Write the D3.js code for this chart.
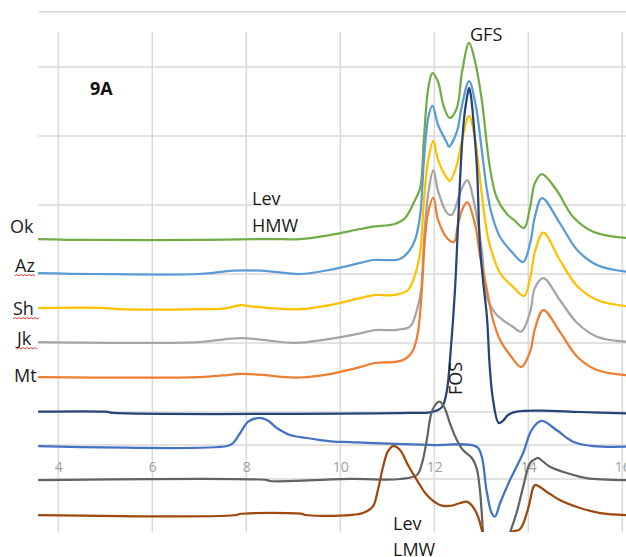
<!DOCTYPE html>
<html>
<head>
<meta charset="utf-8">
<script src="https://cdn.jsdelivr.net/npm/d3@7"></script>
<style>
  html, body { margin: 0; padding: 0; background: #fff; }
  svg { display: block; }
  text { font-family: "Open Sans", "DejaVu Sans", sans-serif; }
</style>
</head>
<body>
<svg id="chart" width="626" height="557"></svg>
<script>
// ---------- DATA (elution volume, detector response in grid units) ----------
const xTicks = [4, 6, 8, 10, 12, 14, 16];
const gridValues = [5.8, 5, 4, 3, 2, 1, 0, -0.48, -0.97];

const seriesNames = ["Ok", "Az", "Sh", "Jk", "Mt", "FOS", "LevHMW", "FOSstd", "LevLMW"];
const seriesColors = ["#70ad47", "#5b9bd5", "#ffc000", "#a5a5a5", "#ed7d31", "#264478", "#4472c4", "#636363", "#9e480e"];

const okData = [[3.57,2.507],[4.67,2.493],[6.9,2.493],[8.5,2.507],[9.14,2.507],[9.78,2.565],[10.42,2.652],[10.69,2.686],[11.16,2.725],[11.38,2.812],[11.59,3.072],[11.70,3.246],[11.78,3.971],[11.87,4.681],[11.96,4.91],[12.08,4.783],[12.2,4.43],[12.33,4.261],[12.48,4.406],[12.59,4.928],[12.74,5.348],[12.86,5.1],[13.01,4.522],[13.18,3.555],[13.33,3.101],[13.54,2.874],[13.7,2.78],[13.91,2.667],[14.04,2.975],[14.14,3.319],[14.29,3.449],[14.60,3.217],[14.95,2.83],[15.38,2.613],[16.08,2.522]];
const azData = [[3.57,2.014],[4.8,2.0],[7.0,2.0],[7.72,2.048],[8.3,2.048],[8.6,2.03],[9.14,2.0],[9.78,2.06],[10.42,2.16],[10.69,2.203],[11.27,2.217],[11.48,2.348],[11.59,2.493],[11.70,2.855],[11.78,3.652],[11.87,4.261],[11.96,4.439],[12.08,4.159],[12.27,3.899],[12.31,3.845],[12.48,4.062],[12.59,4.449],[12.74,4.797],[12.88,4.449],[13.01,3.797],[13.12,3.217],[13.22,2.87],[13.40,2.536],[13.67,2.304],[13.89,2.174],[14.04,2.449],[14.14,2.83],[14.29,3.101],[14.67,2.739],[15.04,2.348],[15.46,2.13],[16.08,2.033]];
const shData = [[3.57,1.507],[5.0,1.507],[5.3,1.49],[7.0,1.49],[7.6,1.507],[7.87,1.55],[8.1,1.53],[8.5,1.507],[9.14,1.49],[9.78,1.55],[10.42,1.65],[10.74,1.696],[11.16,1.696],[11.44,1.768],[11.59,1.986],[11.70,2.32],[11.78,3.072],[11.87,3.652],[11.98,3.928],[12.08,3.652],[12.27,3.391],[12.33,3.348],[12.48,3.58],[12.59,3.942],[12.74,4.29],[12.87,3.942],[12.97,3.391],[13.08,2.78],[13.18,2.42],[13.40,2.014],[13.67,1.816],[13.91,1.681],[14.04,1.94],[14.14,2.32],[14.32,2.599],[14.67,2.203],[15.04,1.826],[15.46,1.623],[16.08,1.536]];
const jkData = [[3.57,1.014],[7.0,1.014],[7.5,1.05],[7.87,1.072],[8.3,1.05],[8.9,1.004],[9.14,1.004],[9.78,1.06],[10.42,1.14],[10.74,1.188],[11.16,1.188],[11.48,1.236],[11.63,1.478],[11.72,1.768],[11.78,2.493],[11.87,3.159],[11.98,3.507],[12.08,3.2],[12.27,2.884],[12.37,2.855],[12.5,3.072],[12.59,3.246],[12.70,3.362],[12.87,2.957],[13.01,2.348],[13.12,1.667],[13.3,1.43],[13.46,1.333],[13.67,1.236],[13.85,1.164],[14.04,1.45],[14.14,1.8],[14.32,1.942],[14.67,1.623],[15.04,1.29],[15.46,1.091],[16.08,1.019]];
const mtData = [[3.57,0.507],[7.0,0.507],[7.5,0.53],[7.87,0.551],[8.3,0.54],[8.8,0.507],[9.14,0.5],[9.78,0.55],[10.42,0.65],[10.74,0.710],[11.16,0.725],[11.38,0.768],[11.55,0.899],[11.65,1.145],[11.72,1.623],[11.80,2.49],[11.87,2.899],[11.98,3.106],[12.08,2.783],[12.27,2.522],[12.42,2.464],[12.5,2.71],[12.59,2.928],[12.70,3.043],[12.87,2.71],[12.97,2.275],[13.08,1.913],[13.25,1.333],[13.40,1.043],[13.61,0.826],[13.85,0.652],[14.04,0.88],[14.14,1.2],[14.32,1.478],[14.67,1.164],[15.04,0.801],[15.46,0.609],[16.08,0.536]];
const fosData = [[3.57,0.004],[5.0,0.004],[5.2,-0.014],[11.5,-0.014],[11.91,-0.004],[12.08,0.029],[12.18,0.087],[12.27,0.319],[12.35,0.899],[12.44,1.768],[12.50,2.638],[12.57,3.652],[12.63,4.232],[12.70,4.58],[12.74,4.696],[12.78,4.58],[12.84,4.159],[12.91,3.507],[12.97,2.42],[13.04,1.884],[13.12,1.377],[13.18,0.652],[13.25,0.174],[13.37,-0.159],[13.46,-0.13],[13.57,-0.043],[13.75,0.004],[14.25,0.02],[15.1,0.0],[16.08,-0.02]];
const levHmwData = [[3.57,-0.493],[7.59,-0.493],[7.72,-0.449],[7.87,-0.304],[8.04,-0.141],[8.25,-0.087],[8.44,-0.116],[8.65,-0.232],[8.93,-0.333],[9.29,-0.377],[9.57,-0.406],[9.85,-0.43],[10.21,-0.435],[10.57,-0.449],[11.91,-0.478],[12.90,-0.503],[13.01,-0.648],[13.11,-1.130],[13.22,-1.464],[13.29,-1.517],[13.40,-1.319],[13.61,-0.986],[13.89,-0.594],[14.07,-0.261],[14.28,-0.13],[14.60,-0.261],[14.95,-0.430],[15.38,-0.493],[16.08,-0.503]];
const fosStdData = [[3.57,-0.986],[8.44,-0.986],[8.5,-1.0],[10.21,-0.971],[11.27,-0.971],[11.63,-0.913],[11.74,-0.739],[11.84,-0.406],[11.94,-0.014],[12.05,0.126],[12.12,0.149],[12.22,0.058],[12.33,-0.159],[12.48,-0.406],[12.61,-0.551],[12.80,-0.667],[12.90,-0.812],[12.97,-1.130],[13.01,-1.464],[13.04,-1.754],[13.2,-2.4],[13.4,-2.3],[13.61,-1.754],[13.75,-1.464],[13.89,-1.087],[14.04,-0.739],[14.18,-0.670],[14.21,-0.667],[14.46,-0.793],[14.82,-0.884],[15.24,-0.957],[16.08,-0.986]];
const levLmwData = [[3.57,-1.493],[7.8,-1.493],[7.85,-1.478],[9.2,-1.478],[9.25,-1.493],[10.21,-1.493],[10.48,-1.464],[10.69,-1.372],[10.80,-1.130],[10.91,-0.793],[11.01,-0.575],[11.12,-0.493],[11.27,-0.551],[11.44,-0.768],[11.63,-0.986],[11.84,-1.203],[12.12,-1.348],[12.33,-1.362],[12.55,-1.319],[12.69,-1.30],[12.82,-1.372],[12.93,-1.517],[13.01,-1.710],[13.04,-1.80],[13.3,-2.4],[13.5,-2.3],[13.61,-1.754],[13.82,-1.70],[13.97,-1.46],[14.04,-1.275],[14.10,-1.10],[14.15,-1.055],[14.39,-1.155],[14.67,-1.275],[15.10,-1.391],[15.53,-1.464],[16.08,-1.493]];

const seriesData = [okData, azData, shData, jkData, mtData, fosData, levHmwData, fosStdData, levLmwData];

// ---------- CHART ----------
const svg = d3.select("#chart");
const x = d3.scaleLinear().domain([4, 16]).range([58.3, 622.3]);
const y = d3.scaleLinear().domain([0, 5]).range([412, 67]);
const xMin = 3.57, xMax = 16.08, yTop = 5.507, yBottom = -1.739;

svg.append("defs").append("clipPath").attr("id", "plotClip")
  .append("rect")
  .attr("x", x(xMin)).attr("y", 0)
  .attr("width", x(xMax) - x(xMin)).attr("height", y(yBottom));

const grid = svg.append("g").attr("stroke", "#d9d9d9").attr("stroke-width", 1.5);
grid.selectAll("line.h").data(gridValues).join("line")
  .attr("x1", x(xMin)).attr("x2", x(xMax) + 5)
  .attr("y1", d => y(d)).attr("y2", d => y(d));
grid.selectAll("line.v").data(xTicks).join("line")
  .attr("x1", d => x(d)).attr("x2", d => x(d))
  .attr("y1", y(yTop)).attr("y2", y(yBottom));

// x-axis tick labels
const axis = d3.axisBottom(x).tickValues(xTicks).tickSize(0).tickPadding(17);
const axG = svg.append("g").attr("transform", `translate(0,${y(-0.48)})`).call(axis);
axG.select(".domain").remove();
axG.selectAll("text").attr("fill", "#a0a0a0").style("font-size", "14px")
  .style("font-family", "'Open Sans', sans-serif");

// lines
const line = d3.line().x(d => x(d[0])).y(d => y(d[1])).curve(d3.curveCatmullRom.alpha(0.5));
svg.append("g").attr("clip-path", "url(#plotClip)")
  .selectAll("path").data(seriesData).join("path")
  .attr("d", line)
  .attr("fill", "none")
  .attr("stroke", (d, i) => seriesColors[i])
  .attr("stroke-width", 2.25)
  .attr("stroke-linejoin", "round");

// annotations
const annotations = [
  { t: "Ok", x: 10, y: 233 },
  { t: "Az", x: 15, y: 271.5 },
  { t: "Sh", x: 13, y: 315 },
  { t: "Jk", x: 17, y: 345 },
  { t: "Mt", x: 14, y: 382 },
  { t: "GFS", x: 470, y: 41 },
  { t: "Lev", x: 252, y: 205 },
  { t: "HMW", x: 252, y: 232 },
  { t: "Lev", x: 393, y: 530 },
  { t: "LMW", x: 393, y: 556 }
];
svg.selectAll("text.ann").data(annotations).join("text")
  .attr("class", "ann")
  .attr("x", d => d.x).attr("y", d => d.y)
  .attr("fill", "#1a1a1a").style("font-size", "18px")
  .text(d => d.t);

svg.append("text").attr("x", 90).attr("y", 95)
  .style("font-size", "18px").style("font-weight", "bold").attr("fill", "#111").text("9A");

svg.append("text").attr("transform", "translate(462,395) rotate(-90)")
  .style("font-size", "18px").attr("fill", "#1a1a1a").text("FOS");

// spell-check squiggles under Az, Sh, Jk
const squiggles = [{ x0: 15, x1: 36, y: 276 }, { x0: 13, x1: 40, y: 319 }, { x0: 17, x1: 38, y: 349 }];
svg.selectAll("path.sq").data(squiggles).join("path")
  .attr("class", "sq")
  .attr("d", d => {
    let p = `M${d.x0},${d.y}`;
    let up = true;
    for (let xx = d.x0 + 2; xx <= d.x1; xx += 2) { p += `L${xx},${d.y + (up ? -1.5 : 0)}`; up = !up; }
    return p;
  })
  .attr("fill", "none").attr("stroke", "#e8413a").attr("stroke-width", 1);
</script>
</body>
</html>
